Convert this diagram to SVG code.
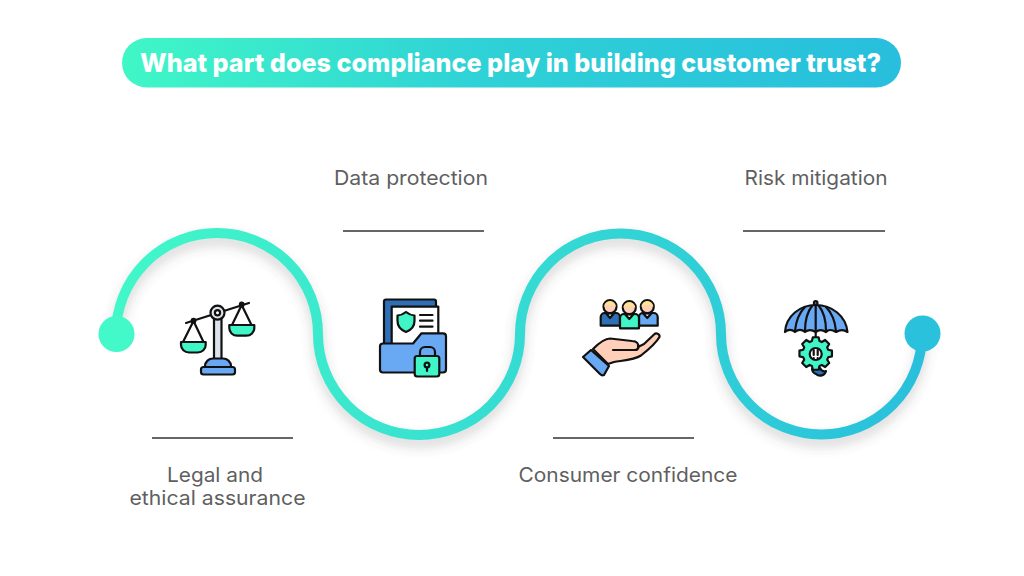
<svg xmlns="http://www.w3.org/2000/svg" width="1024" height="576" viewBox="0 0 1024 576">
<style>
.lab{font-family:"Inter","Open Sans","Liberation Sans",sans-serif;font-size:20px;fill:#5f5f5f;font-weight:400}
.rule{stroke:#666;stroke-width:2;fill:none}
.k{stroke:#111;stroke-width:2.200;stroke-linejoin:round;stroke-linecap:round}
.n{fill:none}
.mint{fill:#40F5C6}
.blue{fill:#69A8F3}
.dark{fill:#2F6FB5}
.white{fill:#fff}
.grey{fill:#DDE3EA}
.skin{fill:#FFCFBA}
.hair{fill:#FFE391}
</style>
<defs>
<linearGradient id="pill" x1="0" x2="1" y1="0" y2="0"><stop offset="0" stop-color="#40F7C6"/><stop offset=".45" stop-color="#2FD2D6"/><stop offset="1" stop-color="#28BEDD"/></linearGradient>
<linearGradient id="wave" gradientUnits="userSpaceOnUse" x1="100" x2="940" y1="0" y2="0"><stop offset="0" stop-color="#42F9C8"/><stop offset="1" stop-color="#28BEDD"/></linearGradient>
<filter id="soft" x="-10%" y="-20%" width="120%" height="140%"><feGaussianBlur stdDeviation="6"/></filter>
</defs>
<rect width="1024" height="576" fill="#fff"/>
<g id="title">
<rect x="122" y="38" width="779" height="49.500" rx="24.700" fill="url(#pill)"/>
<text x="510.500" y="72" text-anchor="middle" textLength="741" lengthAdjust="spacingAndGlyphs" font-family="Inter,'Open Sans','Liberation Sans',sans-serif" font-size="26" font-weight="800" fill="#fff">What part does compliance play in building customer trust?</text>
</g>
<g id="connectors">
<path d="M116,334 A101,101 0 0 1 318,334 A101,101 0 0 0 520,334 A100.500,100.500 0 0 1 721,334 A100.500,100.500 0 0 0 922,334" fill="none" stroke="#555" stroke-opacity=".24" stroke-width="10" filter="url(#soft)" transform="translate(0,7)"/>
<path d="M116,334 A101,101 0 0 1 318,334 A101,101 0 0 0 520,334 A100.500,100.500 0 0 1 721,334 A100.500,100.500 0 0 0 922,334" fill="none" stroke="url(#wave)" stroke-width="10"/>
<circle cx="116.500" cy="334" r="18" fill="#43F9C9"/>
<circle cx="922.500" cy="333.500" r="18" fill="#29C1DC"/>
<line class="rule" x1="152" y1="438" x2="293" y2="438"/>
<line class="rule" x1="343" y1="231" x2="484" y2="231"/>
<line class="rule" x1="553" y1="438" x2="694" y2="438"/>
<line class="rule" x1="743" y1="231" x2="885" y2="231"/>
</g>
<g id="node-legal">
<rect class="k grey" x="214" y="317" width="7.500" height="42"/>
<path class="k n" d="M186,323 L249,303"/>
<circle class="k grey" cx="217.500" cy="312.700" r="7"/><circle class="k white" cx="217.500" cy="312.700" r="2.600"/>
<circle class="k" cx="193.500" cy="320.700" r="1.800" fill="#555"/><circle class="k" cx="241.700" cy="304.500" r="1.800" fill="#555"/>
<path class="k n" d="M183,342 L193.500,321 L203.500,342"/><path class="k n" d="M232,325 L241.700,305 L251.500,325"/>
<path class="k mint" d="M181,342 H205.700 V345 A8,7.500 0 0 1 197.700,352.500 H189 A8,7.500 0 0 1 181,345 Z"/>
<path class="k mint" d="M229.300,325 H254.300 V328 A8,7.500 0 0 1 246.300,335.700 H237.300 A8,7.500 0 0 1 229.300,328 Z"/>
<path class="k blue" d="M205,367 V366 A8,8 0 0 1 213,358.500 H223 A8,8 0 0 1 231,366 V367 Z"/>
<rect class="k blue" x="201" y="367" width="34" height="7.500" rx="2.500"/>
<text class="lab" x="215" y="482" text-anchor="middle" textLength="96" lengthAdjust="spacingAndGlyphs">Legal and</text>
<text class="lab" x="217.500" y="505" text-anchor="middle" textLength="176" lengthAdjust="spacingAndGlyphs">ethical assurance</text>
</g>
<g id="node-data">
<rect class="k dark" x="384" y="299.500" width="52" height="50" rx="2"/>
<rect class="k white" x="391.700" y="306.700" width="46.600" height="42"/>
<path class="k mint" d="M406,312 C409,314.500 412,315.300 414.500,315.500 V321 C414.500,326 411,330 406,332 C401,330 397.500,326 397.500,321 V315.500 C400,315.300 403,314.500 406,312 Z"/>
<path class="k n" d="M420,315 H432.500 M420,320.700 H432.500 M420,326.700 H432.500"/>
<path class="k blue" d="M383,343.500 H413 L421.500,333.300 H443 A3,3 0 0 1 446,336.300 V369.500 A3,3 0 0 1 443,372.500 H383 A3,3 0 0 1 380,369.500 V346.500 A3,3 0 0 1 383,343.500 Z"/>
<path class="k n" d="M420,356 V352 A5,5 0 0 1 425,347 H430 A5,5 0 0 1 435,352 V356"/>
<rect class="k mint" x="414.700" y="356" width="24.600" height="20.500" rx="2.500"/>
<circle class="k" cx="427" cy="365" r="2.400" fill="#40F5C6"/><path class="k n" d="M427,367.500 V371"/>
<text class="lab" x="411" y="185" text-anchor="middle" textLength="154" lengthAdjust="spacingAndGlyphs">Data protection</text>
</g>
<g id="node-consumer">
<path class="k dark" d="M600.700,325.700 V317 A4,4 0 0 1 604.700,313 H616 A4,4 0 0 1 620,317 V325.700 Z"/>
<path class="k blue" d="M639,325.700 V317 A4,4 0 0 1 643,313 H653.700 A4,4 0 0 1 657.700,317 V325.700 Z"/>
<path class="k mint" d="M620,328.300 V318 A4,4 0 0 1 624,314 H635 A4,4 0 0 1 639,318 V328.300 Z"/>
<path class="k white" d="M606,313.300 L610,318 L614,313.300 Z"/><path class="k white" d="M625,314.300 L629.300,319 L633.500,314.300 Z"/><path class="k white" d="M643,313.300 L647.300,318 L651.500,313.300 Z"/>
<circle class="k skin" cx="610" cy="306.700" r="6.500"/><circle class="k skin" cx="629.300" cy="307.700" r="6.500"/><circle class="k skin" cx="647.300" cy="306.700" r="6.500"/>
<path class="hair" d="M604,307 A6,6 0 0 1 616,307 Q612,303.500 610,306 Q607,303.500 604,307 Z"/>
<path class="hair" d="M623.300,308 A6,6 0 0 1 635.300,308 Q631.300,304.500 629.300,307 Q626.300,304.500 623.300,308 Z"/>
<path class="hair" d="M641.300,307 A6,6 0 0 1 653.300,307 Q649.300,303.500 647.300,306 Q644.300,303.500 641.300,307 Z"/>
<path class="k skin" d="M593,349 C600,342 605,338.500 610,338.500 L632,341 C637,341 639,344 638,347 L644,344 L654,334.500 C656,332.500 660,333.500 659.500,337 C656,343 648,350 641,355.500 C634,360 622,360.500 614,362 L608,364 Z"/>
<path class="k n" d="M613,350 H635 Q638,350 638.500,347"/>
<path class="k blue" d="M583,357 L591,350 L609,366 L604,375 Q602,376 600,374 Z"/>
<text class="lab" x="628" y="482" text-anchor="middle" textLength="219" lengthAdjust="spacingAndGlyphs">Consumer confidence</text>
</g>
<g id="node-risk">
<path class="k n" d="M815.700,332 V342"/>
<circle class="k" cx="815.700" cy="303" r="1.800" fill="#69A8F3"/>
<path class="k" d="M820,368 A5,5 0 0 0 826,371 A6,6 0 0 1 816,374 A6,6 0 0 1 812,369 Z" fill="#2F6FB5"/>
<path class="k blue" d="M785,332 C786,316 800,305 815.700,305 C832,305 846,316 847.500,332 C844,329.500 840,329.500 836,332 C832,329.500 828,329.500 826,332 C822,329.500 819,329.500 815.700,332 C812,329.500 808,329.500 805,332 C802,329.500 798,329.500 795,332 C792,329.500 788,329.500 785,332 Z"/>
<path class="k n" d="M805,331 C805,320 808,311 812,306 M795,331 C796,320 800,312 805,307 M826,331 C826,320 823,311 819,306 M836,331 C835,320 831,312 826,307 M815.700,306 V331"/>
<polygon class="k mint" transform="translate(815.700,353.500)" points="-3.800,-12.430 -2.870,-16.250 2.870,-16.250 3.800,-12.430 6.100,-11.470 9.460,-13.520 13.520,-9.460 11.470,-6.100 12.430,-3.800 16.250,-2.870 16.250,2.870 12.430,3.800 11.470,6.100 13.520,9.460 9.460,13.520 6.100,11.470 3.800,12.430 2.870,16.250 -2.870,16.250 -3.800,12.430 -6.100,11.470 -9.460,13.520 -13.520,9.460 -11.470,6.100 -12.430,3.800 -16.250,2.870 -16.250,-2.870 -12.430,-3.800 -11.470,-6.100 -13.520,-9.460 -9.460,-13.520 -6.100,-11.470"/>
<circle class="k white" cx="815.700" cy="354" r="6"/>
<path class="k n" d="M813.700,350 V355 M817.700,350 V355 M813.700,358 V358.200 M817.700,358 V358.200"/>
<text class="lab" x="816" y="185" text-anchor="middle" textLength="143" lengthAdjust="spacingAndGlyphs">Risk mitigation</text>
</g>
</svg>
